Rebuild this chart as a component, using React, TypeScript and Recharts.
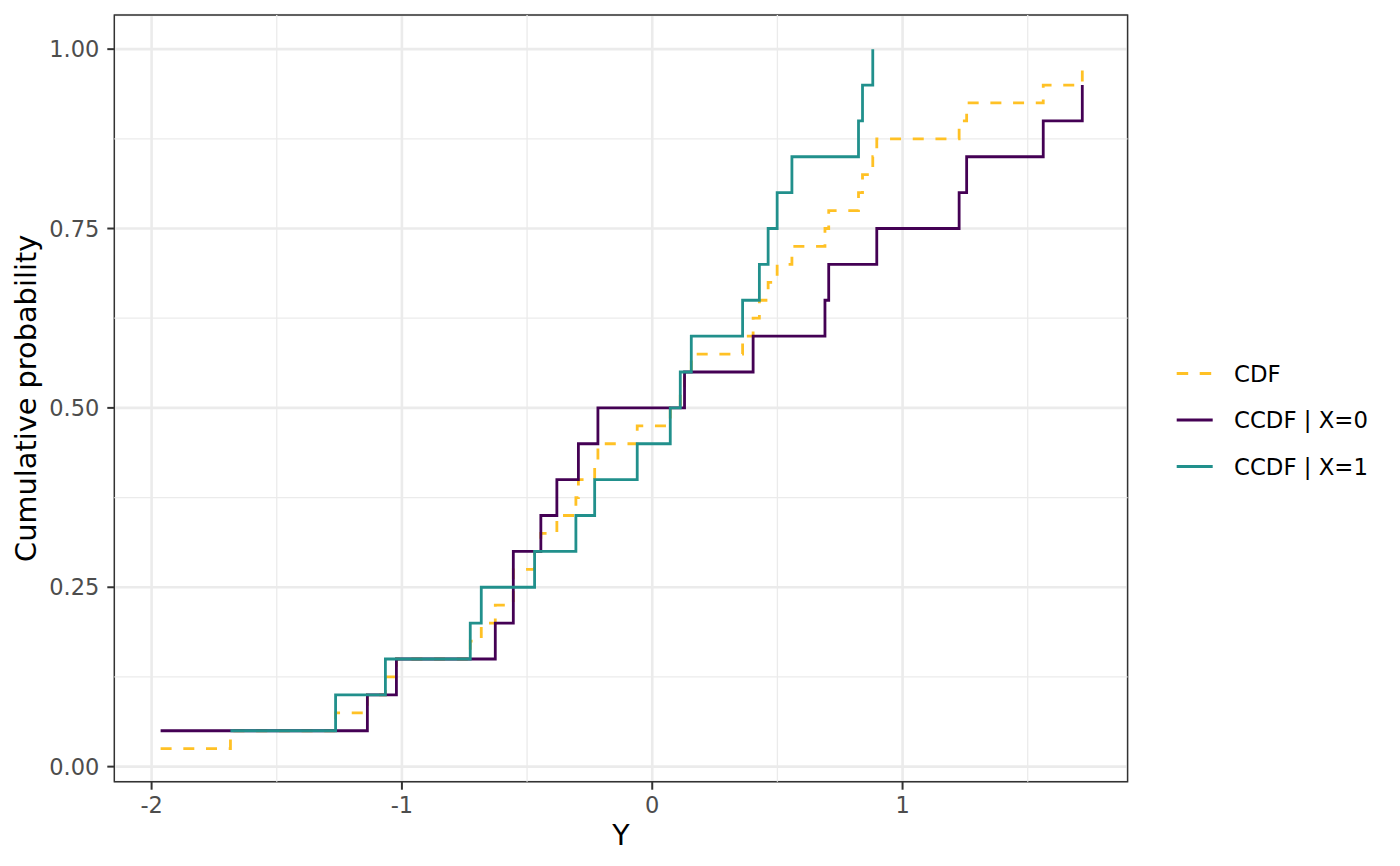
import React from "react";
import {
	CartesianGrid,
	Line,
	LineChart,
	ReferenceArea,
	ReferenceLine,
	XAxis,
	YAxis,
} from "recharts";

// pooled CDF (n = 40)
const cdfX = [
	-1.964, -1.685, -1.265, -1.138, -1.066, -1.022, -0.727, -0.683, -0.627, -0.555, -0.555, -0.47,
	-0.445, -0.381, -0.305, -0.295, -0.23, -0.217, -0.06, 0.072, 0.112, 0.129, 0.156, 0.361, 0.403,
	0.428, 0.463, 0.499, 0.558, 0.69, 0.705, 0.824, 0.84, 0.881, 0.897, 1.226, 1.256, 1.562, 1.718,
];
const cdfP = [
	0.025, 0.05, 0.075, 0.1, 0.125, 0.15, 0.175, 0.2, 0.225, 0.25, 0.275, 0.3, 0.325, 0.35, 0.375,
	0.4, 0.425, 0.45, 0.475, 0.5, 0.525, 0.55, 0.575, 0.6, 0.625, 0.65, 0.675, 0.7, 0.725, 0.75,
	0.775, 0.8, 0.825, 0.85, 0.875, 0.9, 0.925, 0.95, 0.975,
];

// conditional CDF, X = 0
const x0X = [
	-1.964, -1.138, -1.022, -0.627, -0.555, -0.555, -0.445, -0.381, -0.295, -0.217, 0.129, 0.403,
	0.69, 0.705, 0.897, 1.226, 1.256, 1.562, 1.718,
];
const x0P = [
	0.05, 0.1, 0.15, 0.2, 0.25, 0.3, 0.35, 0.4, 0.45, 0.5, 0.55, 0.6, 0.65, 0.7, 0.75, 0.8, 0.85, 0.9,
	0.95,
];

// conditional CDF, X = 1
const x1X = [
	-1.685, -1.265, -1.066, -0.727, -0.683, -0.47, -0.305, -0.23, -0.06, 0.072, 0.112, 0.156, 0.361,
	0.428, 0.463, 0.499, 0.558, 0.824, 0.84, 0.881,
];
const x1P = [
	0.05, 0.1, 0.15, 0.2, 0.25, 0.3, 0.35, 0.4, 0.45, 0.5, 0.55, 0.6, 0.65, 0.7, 0.75, 0.8, 0.85, 0.9,
	0.95, 1.0,
];

const xTicks = [-2, -1, 0, 1];
const xMinor = [-1.5, -0.5, 0.5, 1.5];
const yTicks = [0, 0.25, 0.5, 0.75, 1];
const yMinor = [0.125, 0.375, 0.625, 0.875];
const xDomain: [number, number] = [-2.149, 1.899];
const yDomain: [number, number] = [-0.021, 1.0476];

const legendItems = [
	{ label: "CDF", color: "#FFC125", dash: "11.5 11.5" },
	{ label: "CCDF | X=0", color: "#440154", dash: undefined },
	{ label: "CCDF | X=1", color: "#21908C", dash: undefined },
];

const font = "'DejaVu Sans', sans-serif";

const toRows = (xs: number[], ps: number[]) => xs.map((x, i) => ({ x, p: ps[i] }));

const cdfRows = toRows(cdfX, cdfP);
const x0Rows = toRows(x0X, x0P);
const x1Rows = toRows(x1X, x1P);

const tickStyle = { fill: "#4D4D4D", fontSize: 22.5, fontFamily: font };
const tickLine = { stroke: "#333333", strokeWidth: 2 };

export default function App() {
	return (
		<div style={{ position: "absolute", left: 0, top: 0, width: 1400, height: 866, background: "#fff" }}>
			<LineChart
				width={1400}
				height={866}
				margin={{ top: 15, right: 272.4, bottom: 0, left: 0 }}
				style={{ fontFamily: font }}
			>
				<CartesianGrid stroke="#EBEBEB" strokeWidth={2.6} />
				{xMinor.map((v) => (
					<ReferenceLine key={`xm${v}`} x={v} stroke="#EBEBEB" strokeWidth={1.3} />
				))}
				{yMinor.map((v) => (
					<ReferenceLine key={`ym${v}`} y={v} stroke="#EBEBEB" strokeWidth={1.3} />
				))}
				<XAxis
					type="number"
					dataKey="x"
					domain={xDomain}
					ticks={xTicks}
					allowDataOverflow
					height={84.3}
					axisLine={false}
					tickLine={tickLine}
					tickSize={8}
					tickMargin={7}
					tick={tickStyle}
					label={{
						value: "Y",
						position: "insideTop",
						offset: 43,
						style: { fontSize: 28.4, fill: "#000", fontFamily: font },
					}}
				/>
				<YAxis
					type="number"
					domain={yDomain}
					ticks={yTicks}
					allowDataOverflow
					width={114.3}
					axisLine={false}
					tickLine={tickLine}
					tickSize={7}
					tickMargin={8}
					tick={tickStyle}
					tickFormatter={(v: number) => v.toFixed(2)}
					label={{
						value: "Cumulative probability",
						angle: -90,
						position: "insideLeft",
						offset: 26,
						style: { textAnchor: "middle", fontSize: 28.8, fill: "#000", fontFamily: font },
					}}
				/>
				<Line
					data={cdfRows}
					dataKey="p"
					type="stepAfter"
					stroke="#FFC125"
					strokeWidth={2.8}
					strokeDasharray="11 11.7"
					dot={false}
					activeDot={false}
					isAnimationActive={false}
				/>
				<Line
					data={x0Rows}
					dataKey="p"
					type="stepAfter"
					stroke="#440154"
					strokeWidth={2.8}
					dot={false}
					activeDot={false}
					isAnimationActive={false}
				/>
				<Line
					data={x1Rows}
					dataKey="p"
					type="stepAfter"
					stroke="#21908C"
					strokeWidth={2.8}
					dot={false}
					activeDot={false}
					isAnimationActive={false}
				/>
				<ReferenceArea
					x1={xDomain[0]}
					x2={xDomain[1]}
					y1={yDomain[0]}
					y2={yDomain[1]}
					fill="none"
					fillOpacity={0}
					stroke="#333333"
					strokeWidth={1.4}
					ifOverflow="visible"
				/>
			</LineChart>
			<svg
				width={240}
				height={140}
				style={{ position: "absolute", left: 1160, top: 350, pointerEvents: "none" }}
			>
				{legendItems.map((item, i) => (
					<g key={item.label} transform={`translate(0, ${23.5 + i * 46.5})`}>
						<line
							x1={16.7}
							x2={52.7}
							y1={0}
							y2={0}
							stroke={item.color}
							strokeWidth={2.9}
							strokeDasharray={item.dash}
						/>
						<text x={74} y={0} dy="0.36em" fontSize={22.8} fontFamily={font} fill="#000">
							{item.label}
						</text>
					</g>
				))}
			</svg>
		</div>
	);
}
